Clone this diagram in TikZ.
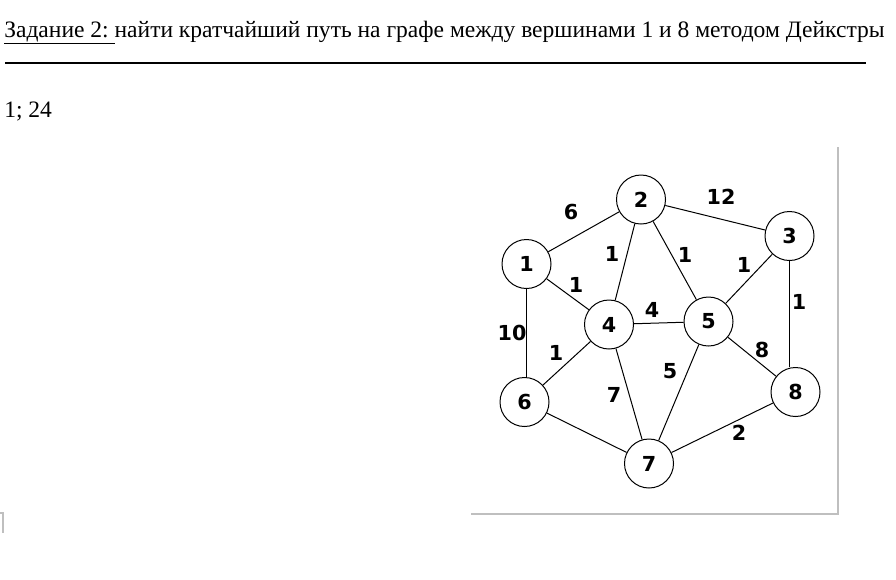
\documentclass[tikz,border=0pt]{standalone}
\usepackage{fontspec}
\setmainfont{Liberation Serif}
\newfontfamily\graphfont{DejaVu Sans}
\begin{document}
\begin{tikzpicture}[x=0.75pt,y=-0.75pt,
  vert/.style={circle,draw,line width=0.75pt,minimum size=36.75pt,inner sep=0pt,font=\graphfont\bfseries\fontsize{15.5}{15.5}\selectfont},
  wlab/.style={inner sep=0pt,font=\graphfont\bfseries\fontsize{15.5}{15.5}\selectfont},
  edge/.style={line width=0.75pt},
  frame/.style={draw=black!25,line width=1pt}]
\useasboundingbox (0,0) rectangle (896,579);
% header
\node[anchor=base west,inner sep=0pt,font=\fontsize{17.65}{20}\selectfont] (title) at (4,37) {\underline{Задание 2:\ }найти кратчайший путь на графе между вершинами 1 и 8 методом Дейкстры};
\coordinate (hl1) at (5,63);
\coordinate (hl2) at (866,63);
\draw[line width=1.1pt] (hl1) -- (hl2);
\node[anchor=base west,inner sep=0pt,font=\fontsize{17.65}{20}\selectfont] (answer) at (4,117) {1; 24};
% picture frame
\coordinate (f1) at (838,147);
\coordinate (f2) at (838,514);
\coordinate (f3) at (471,514);
\draw[frame] (f1) -- (f2) -- (f3);
\coordinate (m1) at (0,513);
\coordinate (m2) at (3,513);
\coordinate (m3) at (3,533);
\draw[frame] (m1) -- (m2) -- (m3);
% vertices
\node[vert] (v1) at (526.5,264) {1};
\node[vert] (v2) at (641,199.5) {2};
\node[vert] (v3) at (789.5,236) {3};
\node[vert] (v4) at (609,324.5) {4};
\node[vert] (v5) at (708.5,321.5) {5};
\node[vert] (v6) at (524.5,402) {6};
\node[vert] (v7) at (649,463.5) {7};
\node[vert] (v8) at (795.5,392) {8};
% edges
\draw[edge] (v1) -- (v2);
\draw[edge] (v2) -- (v3);
\draw[edge] (v1) -- (v4);
\draw[edge] (v2) -- (v4);
\draw[edge] (v2) -- (v5);
\draw[edge] (v3) -- (v5);
\draw[edge] (v3.south) -- (v3.south |- v8.north);
\draw[edge] (v1.south) -- (v1.south |- v6.north);
\draw[edge] (v4) -- (v5);
\draw[edge] (v4) -- (v6);
\draw[edge] (v4) -- (v7);
\draw[edge] (v5) -- (v7);
\draw[edge] (v5) -- (v8);
\draw[edge] (v6) -- (v7);
\draw[edge] (v7) -- (v8);
% weights
\node[wlab] (w12) at (571,212) {6};
\node[wlab] (w23) at (721,197) {12};
\node[wlab] (w24) at (612,254) {1};
\node[wlab] (w25) at (685,255) {1};
\node[wlab] (w35) at (744,265) {1};
\node[wlab] (w38) at (799,302) {1};
\node[wlab] (w14) at (576,285) {1};
\node[wlab] (w45) at (652,310) {4};
\node[wlab] (w16) at (512,333) {10};
\node[wlab] (w46) at (556,353) {1};
\node[wlab] (w57) at (670,371) {5};
\node[wlab] (w58) at (762,350) {8};
\node[wlab] (w47) at (614,395) {7};
\node[wlab] (w78) at (739,433) {2};
\end{tikzpicture}
\end{document}
